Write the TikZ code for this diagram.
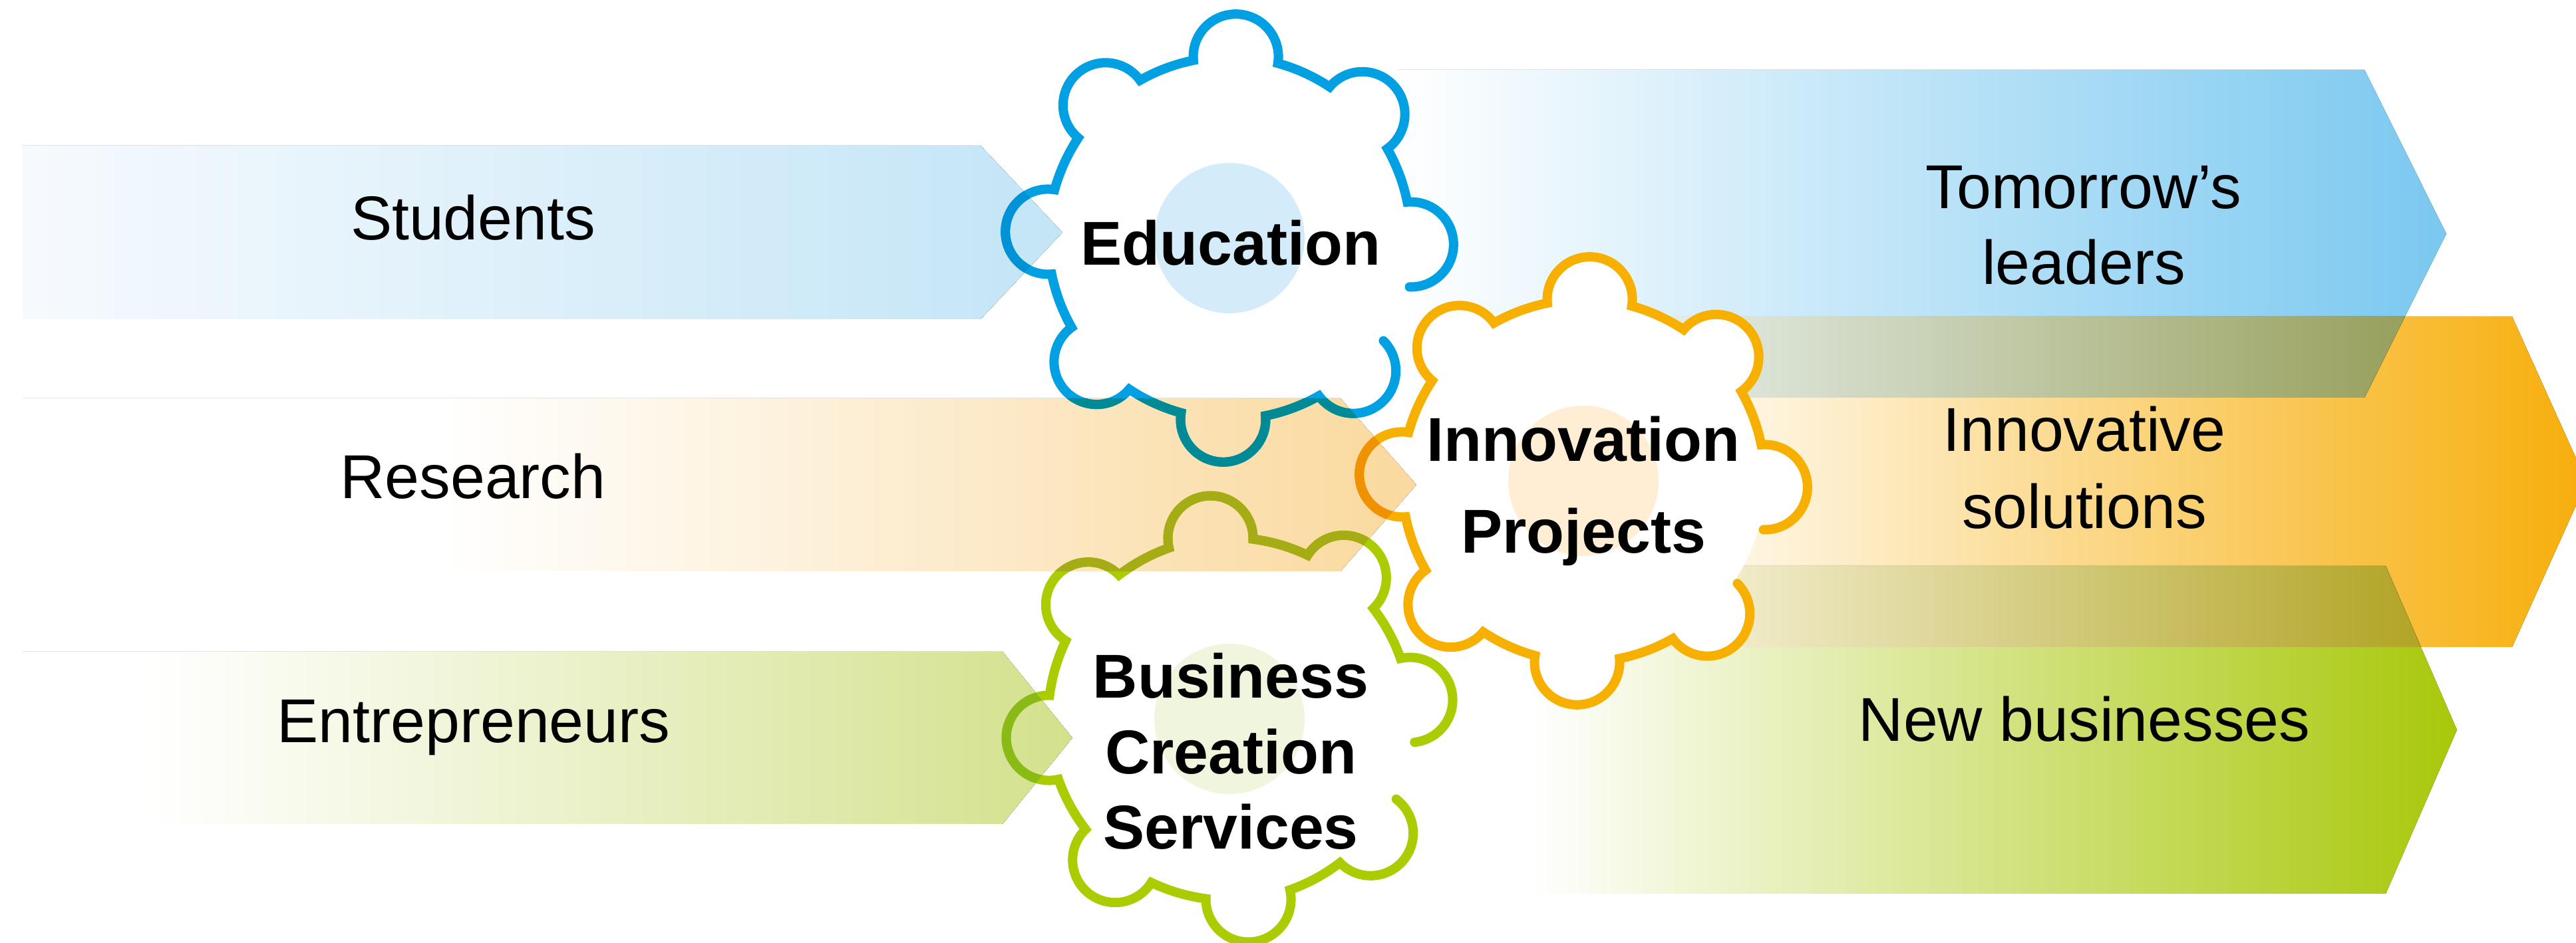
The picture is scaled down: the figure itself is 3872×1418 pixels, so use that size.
\documentclass[tikz,border=0pt]{standalone}
\usepackage{fontspec}
\setmainfont{Liberation Sans}

\definecolor{edublue}{RGB}{0,160,226}
\definecolor{innoorange}{RGB}{248,176,0}
\definecolor{busgreen}{RGB}{170,204,0}
\definecolor{edupale}{RGB}{212,236,250}
\definecolor{innopale}{RGB}{255,238,212}
\definecolor{buspale}{RGB}{240,246,222}
\definecolor{studentsL}{RGB}{246,250,254}
\definecolor{studentsR}{RGB}{195,229,246}
\definecolor{researchR}{RGB}{250,218,160}
\definecolor{entreR}{RGB}{211,225,140}
\definecolor{leadersR}{RGB}{122,200,240}
\definecolor{solutionsR}{RGB}{247,174,10}
\definecolor{businessesR}{RGB}{168,200,10}
\definecolor{leadsolL}{RGB}{232,240,238}
\definecolor{leadsolR}{RGB}{146,154,82}
\definecolor{solbusL}{RGB}{250,246,226}
\definecolor{solbusR}{RGB}{174,160,28}
\definecolor{edudark}{RGB}{0,138,150}
\definecolor{innodark}{RGB}{240,146,0}
\definecolor{busdark}{RGB}{166,172,22}
\definecolor{busdeep}{RGB}{138,186,22}
\definecolor{edudeep}{RGB}{0,146,214}

\pgfdeclarehorizontalshading{researchshade}{100bp}{color(0bp)=(white); color(40bp)=(white); color(74bp)=(researchR); color(100bp)=(researchR)}
\pgfdeclarehorizontalshading{entreshade}{100bp}{color(0bp)=(white); color(31bp)=(white); color(75bp)=(entreR); color(100bp)=(entreR)}

% gear outline, open on the right side
\newcommand{\gearpath}[3]{(#1,#2) ++(#3:273) ++(#3-90:64)
	arc[start angle=#3-90, end angle=#3+97, radius=64]
	\foreach \i in {1,...,6}{
		arc[start angle=#3+45*\i-31.53, end angle=#3+45*\i-13.47, radius=272.7]
		arc[start angle=#3+45*\i-97, end angle=#3+45*\i+97, radius=64]
	}
	arc[start angle=#3+283.47, end angle=#3+301.53, radius=272.7]
	arc[start angle=#3+218, end angle=#3+407, radius=64]}
% closed gear for the white body
\newcommand{\gearbody}[3]{(#1,#2) ++(#3-13.47:272.7)
	\foreach \i in {0,...,7}{
		arc[start angle=#3+45*\i-97, end angle=#3+45*\i+97, radius=64]
		arc[start angle=#3+45*\i+13.47, end angle=#3+45*\i+31.53, radius=272.7]
	} -- cycle}
\newcommand{\studentsarrow}{(34,1199) -- (1474,1199) -- (1597,1068.5) -- (1474,938) -- (34,938) -- cycle}
\newcommand{\researcharrow}{(34,819) -- (2015,819) -- (2129,689) -- (2015,559) -- (34,559) -- cycle}
\newcommand{\entrearrow}{(34,438) -- (1507,438) -- (1612,308.5) -- (1507,179) -- (34,179) -- cycle}

\tikzset{
	flowtext/.style={font=\fontsize{26.5}{32.5}\selectfont, inner sep=0pt, align=center, anchor=base},
	geartext/.style={flowtext, font=\fontsize{26.5}{32.5}\selectfont\bfseries},
	gearline/.style={line width=0.14cm, line cap=round, line join=miter},
}

\begin{document}
\begin{tikzpicture}[x=0.01cm, y=0.01cm]
	% Background and frame:
	\useasboundingbox (0,0) rectangle (3872,1418);
	\fill[white] (0,0) rectangle (3872,1418);
	% Outcome arrows (behind the gears):
	\fill[left color=white, right color=solutionsR] (2450,942) -- (3776,942) -- (3888,693.5) -- (3776,445) -- (2450,445) -- cycle;
	\fill[left color=white, right color=leadersR] (2100,1313) -- (3554,1313) -- (3677,1066.5) -- (3554,820) -- (2100,820) -- cycle;
	\fill[left color=white, right color=businessesR] (2300,567) -- (3586,567) -- (3693,320.5) -- (3586,74) -- (2300,74) -- cycle;
	\begin{scope}
		\clip (2100,1313) -- (3554,1313) -- (3677,1066.5) -- (3554,820) -- (2100,820) -- cycle;
		\fill[left color=leadsolL, right color=leadsolR] (2450,820) rectangle (3700,942);
	\end{scope}
	\begin{scope}
		\clip (2300,567) -- (3586,567) -- (3693,320.5) -- (3586,74) -- (2300,74) -- cycle;
		\fill[left color=solbusL, right color=solbusR] (2450,445) rectangle (3700,567);
	\end{scope}
	% Gears:
	\foreach \gx/\gy/\rot/\gpale in {1848/1060/-2/edupale, 2380/695/-2/innopale, 1848/337/6/buspale}{
		\fill[white] \gearbody{\gx}{\gy}{\rot};
		\fill[\gpale] (\gx,\gy) circle[radius=113];
	}
	% Input arrows (over the gears):
	\fill[left color=studentsL, right color=studentsR] \studentsarrow;
	\fill[shading=researchshade] \researcharrow;
	\fill[shading=entreshade] \entrearrow;
	\foreach \gx/\gy/\rot/\gcol in {1848/1060/-2/edublue, 2380/695/-2/innoorange, 1848/337/6/busgreen}{
		\draw[gearline, \gcol] \gearpath{\gx}{\gy}{\rot};
	}
	\begin{scope}
		\clip \researcharrow;
		\draw[gearline, edudark] \gearpath{1848}{1060}{-2};
		\draw[gearline, innodark] \gearpath{2380}{695}{-2};
		\draw[gearline, busdark] \gearpath{1848}{337}{6};
	\end{scope}
	\begin{scope}
		\clip \studentsarrow;
		\draw[gearline, edudeep] \gearpath{1848}{1060}{-2};
	\end{scope}
	\begin{scope}
		\clip \entrearrow;
		\draw[gearline, busdeep] \gearpath{1848}{337}{6};
	\end{scope}
	% Labels:
	\node[geartext] (education) at (1850,1019.5) {Education};
	\node[geartext, font=\fontsize{26.5}{39.3}\selectfont\bfseries] (innovation) at (2380,586) {Innovation\\Projects};
	\node[geartext, font=\fontsize{26.5}{32.4}\selectfont\bfseries] (creation) at (1850,141) {Business\\Creation\\Services};
	\node[flowtext] (students) at (711,1057) {Students};
	\node[flowtext] (research) at (711,668) {Research};
	\node[flowtext] (entrepreneurs) at (712,301.5) {Entrepreneurs};
	\node[flowtext] (leaders) at (3132,990) {Tomorrow’s\\leaders};
	\node[flowtext, font=\fontsize{26.5}{33}\selectfont] (solutions) at (3133,623) {Innovative\\solutions};
	\node[flowtext] (businesses) at (3133,303) {New businesses};
\end{tikzpicture}
\end{document}
